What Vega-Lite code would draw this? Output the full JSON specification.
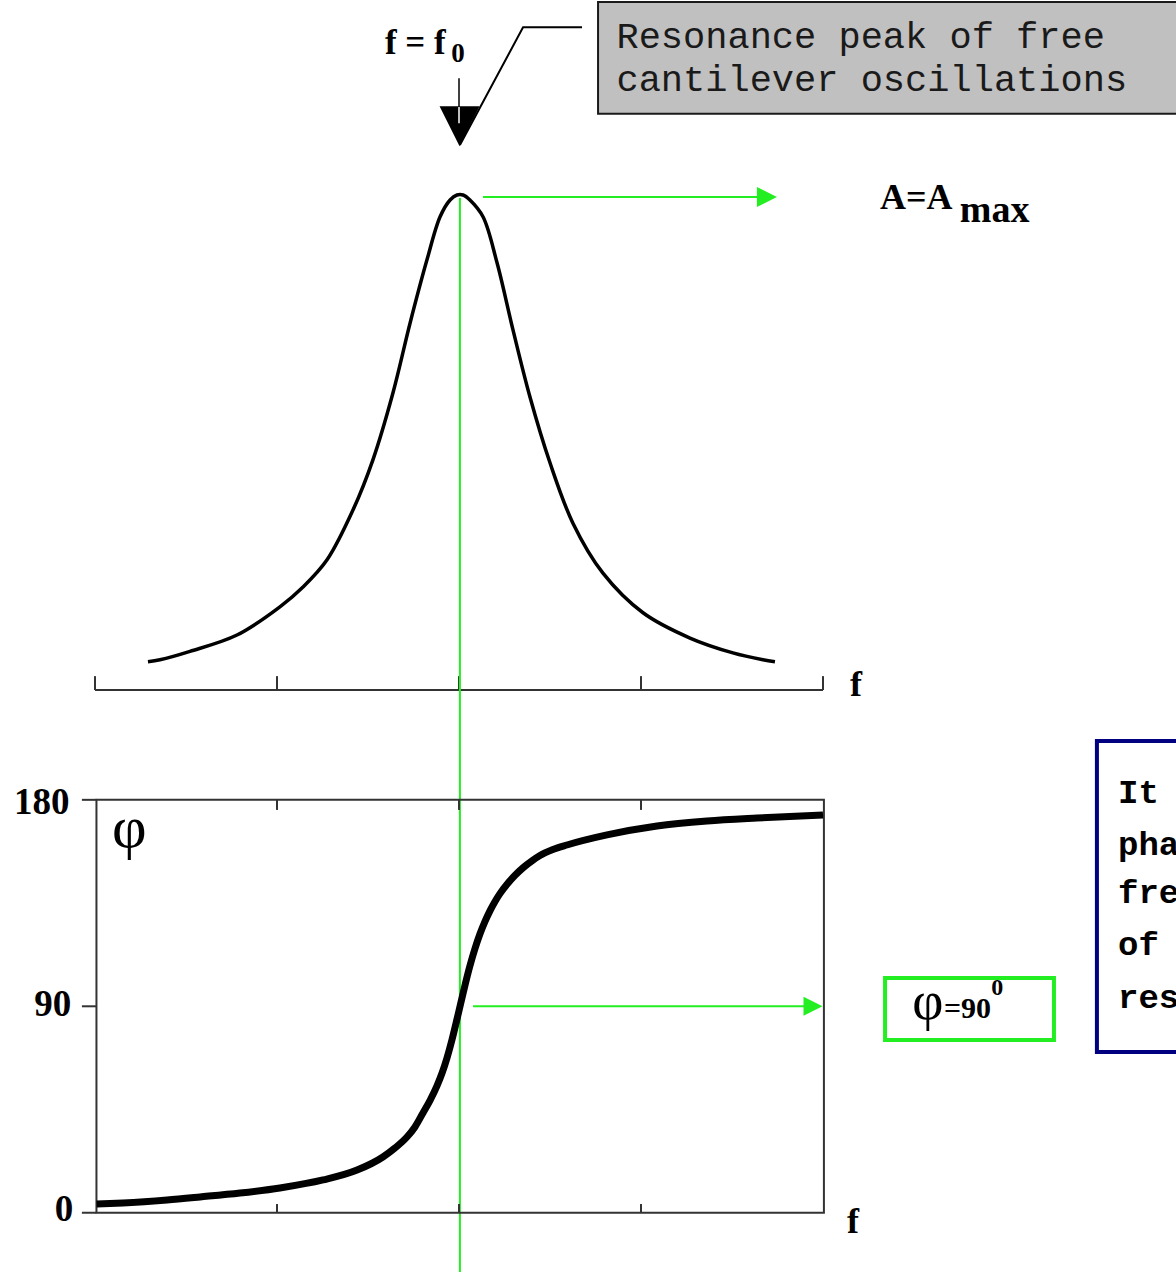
{
  "$schema": "https://vega.github.io/schema/vega-lite/v6.json",
  "width": 1176,
  "height": 1272,
  "autosize": "none",
  "padding": 0,
  "background": "white",
  "config": {"view": {"stroke": null}},
  "datasets": {
    "amplitude": [
      {"f": 0.291, "A": 0.057}, {"f": 0.357, "A": 0.061}, {"f": 0.522, "A": 0.078},
      {"f": 0.780, "A": 0.111}, {"f": 1.016, "A": 0.168}, {"f": 1.143, "A": 0.208},
      {"f": 1.275, "A": 0.263}, {"f": 1.418, "A": 0.364}, {"f": 1.527, "A": 0.465},
      {"f": 1.637, "A": 0.600}, {"f": 1.731, "A": 0.741}, {"f": 1.824, "A": 0.869},
      {"f": 1.896, "A": 0.956}, {"f": 1.951, "A": 0.990}, {"f": 1.989, "A": 1.000},
      {"f": 2.022, "A": 1.000}, {"f": 2.060, "A": 0.990}, {"f": 2.132, "A": 0.956},
      {"f": 2.209, "A": 0.863}, {"f": 2.297, "A": 0.727}, {"f": 2.390, "A": 0.592},
      {"f": 2.500, "A": 0.459}, {"f": 2.626, "A": 0.337}, {"f": 2.791, "A": 0.236},
      {"f": 3.011, "A": 0.156}, {"f": 3.269, "A": 0.105}, {"f": 3.505, "A": 0.075},
      {"f": 3.670, "A": 0.061}, {"f": 3.736, "A": 0.057}
    ],
    "phase": [
      {"f": 0.009, "phi": 3.8}, {"f": 0.154, "phi": 4.3}, {"f": 0.396, "phi": 5.6},
      {"f": 0.577, "phi": 6.9}, {"f": 0.797, "phi": 8.6}, {"f": 1.016, "phi": 10.8},
      {"f": 1.253, "phi": 14.3}, {"f": 1.440, "phi": 18.6}, {"f": 1.582, "phi": 24.3},
      {"f": 1.648, "phi": 28.2}, {"f": 1.714, "phi": 33.0}, {"f": 1.758, "phi": 37.4},
      {"f": 1.802, "phi": 43.5}, {"f": 1.841, "phi": 49.0}, {"f": 1.879, "phi": 55.3},
      {"f": 1.907, "phi": 60.9}, {"f": 1.934, "phi": 67.5}, {"f": 1.962, "phi": 75.6},
      {"f": 1.989, "phi": 84.4}, {"f": 2.005, "phi": 89.8}, {"f": 2.033, "phi": 99.2},
      {"f": 2.060, "phi": 107.6}, {"f": 2.088, "phi": 115.2}, {"f": 2.115, "phi": 121.5},
      {"f": 2.143, "phi": 127.0}, {"f": 2.170, "phi": 131.6}, {"f": 2.198, "phi": 135.7},
      {"f": 2.225, "phi": 139.1}, {"f": 2.264, "phi": 143.2}, {"f": 2.308, "phi": 147.1},
      {"f": 2.352, "phi": 150.4}, {"f": 2.401, "phi": 153.4}, {"f": 2.445, "phi": 155.7},
      {"f": 2.516, "phi": 158.3}, {"f": 2.593, "phi": 160.3}, {"f": 2.813, "phi": 164.7},
      {"f": 3.088, "phi": 168.6}, {"f": 3.363, "phi": 170.8}, {"f": 3.637, "phi": 172.1},
      {"f": 4.000, "phi": 173.4}
    ]
  },
  "encoding": {
    "x": {"field": "f", "type": "quantitative", "scale": {"domain": [-0.52198, 5.93956], "nice": false, "zero": false}, "axis": null}
  },
  "layer": [
    {
      "encoding": {
        "y": {"field": "A", "type": "quantitative", "scale": {"domain": [-1.17576, 1.39394], "nice": false, "zero": false}, "axis": null}
      },
      "layer": [
        {
          "data": {"values": [{"f": 2.764, "f2": 6.2, "A": 1.390, "A2": 1.164}]},
          "mark": {"type": "rect", "fill": "#c0c0c0", "stroke": "#1a1a1a", "strokeWidth": 2, "clip": true},
          "encoding": {"x2": {"field": "f2"}, "y2": {"field": "A2"}}
        },
        {
          "data": {"values": [
            {"f": 2.865, "A": 1.319, "label": "Resonance peak of free"},
            {"f": 2.865, "A": 1.232, "label": "cantilever oscillations"}
          ]},
          "mark": {"type": "text", "font": "Liberation Mono", "fontSize": 37, "align": "left", "baseline": "middle", "color": "#1a1a1a", "clip": true},
          "encoding": {"text": {"field": "label"}}
        },
        {
          "data": {"values": [
            {"f": 2.005, "A": 1.101, "o": 1},
            {"f": 2.352, "A": 1.339, "o": 2},
            {"f": 2.676, "A": 1.339, "o": 3}
          ]},
          "mark": {"type": "line", "color": "black", "strokeWidth": 2},
          "encoding": {"order": {"field": "o"}}
        },
        {
          "data": {"values": [{"f": 2.0, "A": 1.236, "A2": 1.141}]},
          "mark": {"type": "rule", "color": "black", "strokeWidth": 1.5},
          "encoding": {"y2": {"field": "A2"}}
        },
        {
          "data": {"values": [{"f": 2.003, "A": 1.139}]},
          "mark": {"type": "point", "shape": "M-1,-1L1,-1L0,1Z", "filled": true, "size": 1600, "color": "black", "opacity": 1}
        },
        {
          "data": {"values": [{"f": 2.0, "A": 1.178, "A2": 1.145}]},
          "mark": {"type": "rule", "color": "white", "strokeWidth": 1.5},
          "encoding": {"y2": {"field": "A2"}}
        },
        {
          "data": {"values": [{"f": 1.593, "A": 1.307, "label": "f = f"}]},
          "mark": {"type": "text", "font": "Liberation Serif", "fontWeight": "bold", "fontSize": 35, "align": "left", "baseline": "middle", "color": "black"},
          "encoding": {"text": {"field": "label"}}
        },
        {
          "data": {"values": [{"f": 1.958, "A": 1.285, "label": "0"}]},
          "mark": {"type": "text", "font": "Liberation Serif", "fontWeight": "bold", "fontSize": 27, "align": "left", "baseline": "middle", "color": "black"},
          "encoding": {"text": {"field": "label"}}
        },
        {
          "data": {"values": [{"f": 0, "f2": 4, "A": 0}]},
          "mark": {"type": "rule", "color": "#333333", "strokeWidth": 2},
          "encoding": {"x2": {"field": "f2"}}
        },
        {
          "data": {"values": [
            {"f": 0, "A": 0, "A2": 0.028}, {"f": 1, "A": 0, "A2": 0.028}, {"f": 2, "A": 0, "A2": 0.028},
            {"f": 3, "A": 0, "A2": 0.028}, {"f": 4, "A": 0, "A2": 0.028}
          ]},
          "mark": {"type": "rule", "color": "#333333", "strokeWidth": 2},
          "encoding": {"y2": {"field": "A2"}}
        },
        {
          "data": {"values": [{"f": 4.148, "A": 0.010, "label": "f"}]},
          "mark": {"type": "text", "font": "Liberation Serif", "fontWeight": "bold", "fontSize": 36, "align": "left", "baseline": "middle", "color": "black"},
          "encoding": {"text": {"field": "label"}}
        },
        {
          "data": {"name": "amplitude"},
          "mark": {"type": "line", "color": "black", "strokeWidth": 3.5, "interpolate": "catmull-rom"}
        },
        {
          "data": {"values": [{"f": 2.005, "A": 0.994, "A2": -1.17576}]},
          "mark": {"type": "rule", "color": "#22ee22", "strokeWidth": 2},
          "encoding": {"y2": {"field": "A2"}}
        },
        {
          "data": {"values": [{"f": 2.132, "f2": 3.66, "A": 0.996}]},
          "mark": {"type": "rule", "color": "#22ee22", "strokeWidth": 2},
          "encoding": {"x2": {"field": "f2"}}
        },
        {
          "data": {"values": [{"f": 3.692, "A": 0.996}]},
          "mark": {"type": "point", "shape": "M-1,-1L1,0L-1,1Z", "filled": true, "size": 400, "color": "#22ee22", "opacity": 1}
        },
        {
          "data": {"values": [{"f": 4.313, "A": 0.972, "label": "A=A"}]},
          "mark": {"type": "text", "font": "Liberation Serif", "fontWeight": "bold", "fontSize": 36, "align": "left", "baseline": "alphabetic", "color": "black"},
          "encoding": {"text": {"field": "label"}}
        },
        {
          "data": {"values": [{"f": 4.752, "A": 0.945, "label": "max"}]},
          "mark": {"type": "text", "font": "Liberation Serif", "fontWeight": "bold", "fontSize": 38, "align": "left", "baseline": "alphabetic", "color": "black"},
          "encoding": {"text": {"field": "label"}}
        }
      ]
    },
    {
      "encoding": {
        "y": {"field": "phi", "type": "quantitative", "scale": {"domain": [-25.83, 528.67], "nice": false, "zero": false}, "axis": null}
      },
      "layer": [
        {
          "data": {"values": [{"f": 0.008, "f2": 4.005, "phi": 0, "phi2": 180}]},
          "mark": {"type": "rect", "fill": "transparent", "stroke": "#333333", "strokeWidth": 2},
          "encoding": {"x2": {"field": "f2"}, "y2": {"field": "phi2"}}
        },
        {
          "data": {"values": [
            {"f": -0.072, "f2": 0.008, "phi": 0}, {"f": -0.072, "f2": 0.008, "phi": 90}, {"f": -0.072, "f2": 0.008, "phi": 180}
          ]},
          "mark": {"type": "rule", "color": "#333333", "strokeWidth": 2},
          "encoding": {"x2": {"field": "f2"}}
        },
        {
          "data": {"values": [
            {"f": 1, "phi": 180, "phi2": 175.6}, {"f": 2, "phi": 180, "phi2": 175.6}, {"f": 3, "phi": 180, "phi2": 175.6},
            {"f": 1, "phi": 0, "phi2": 3.8}, {"f": 2, "phi": 0, "phi2": 3.8}, {"f": 3, "phi": 0, "phi2": 3.8}
          ]},
          "mark": {"type": "rule", "color": "#333333", "strokeWidth": 2},
          "encoding": {"y2": {"field": "phi2"}}
        },
        {
          "data": {"values": [
            {"f": -0.14, "phi": 178.5, "label": "180"},
            {"f": -0.13, "phi": 90.5, "label": "90"},
            {"f": -0.12, "phi": 1.2, "label": "0"}
          ]},
          "mark": {"type": "text", "font": "Liberation Serif", "fontWeight": "bold", "fontSize": 37, "align": "right", "baseline": "middle", "color": "black"},
          "encoding": {"text": {"field": "label"}}
        },
        {
          "data": {"values": [{"f": 4.132, "phi": -4.0, "label": "f"}]},
          "mark": {"type": "text", "font": "Liberation Serif", "fontWeight": "bold", "fontSize": 36, "align": "left", "baseline": "middle", "color": "black"},
          "encoding": {"text": {"field": "label"}}
        },
        {
          "data": {"values": [{"f": 0.093, "phi": 159.5, "label": "φ"}]},
          "mark": {"type": "text", "font": "Liberation Serif", "fontSize": 60, "align": "left", "baseline": "alphabetic", "color": "black"},
          "encoding": {"text": {"field": "label"}}
        },
        {
          "data": {"name": "phase"},
          "mark": {"type": "line", "color": "black", "strokeWidth": 7, "interpolate": "monotone"}
        },
        {
          "data": {"values": [{"f": 2.077, "f2": 3.907, "phi": 90}]},
          "mark": {"type": "rule", "color": "#22ee22", "strokeWidth": 2},
          "encoding": {"x2": {"field": "f2"}}
        },
        {
          "data": {"values": [{"f": 3.945, "phi": 90}]},
          "mark": {"type": "point", "shape": "M-1,-1L1,0L-1,1Z", "filled": true, "size": 361, "color": "#22ee22", "opacity": 1}
        },
        {
          "data": {"values": [{"f": 4.341, "f2": 5.269, "phi": 102.3, "phi2": 75.3}]},
          "mark": {"type": "rect", "fill": "white", "stroke": "#22ee22", "strokeWidth": 4},
          "encoding": {"x2": {"field": "f2"}, "y2": {"field": "phi2"}}
        },
        {
          "data": {"values": [{"f": 4.49, "phi": 84.5, "label": "φ"}]},
          "mark": {"type": "text", "font": "Liberation Serif", "fontSize": 54, "align": "left", "baseline": "alphabetic", "color": "black"},
          "encoding": {"text": {"field": "label"}}
        },
        {
          "data": {"values": [{"f": 4.665, "phi": 85.0, "label": "=90"}]},
          "mark": {"type": "text", "font": "Liberation Serif", "fontWeight": "bold", "fontSize": 30, "align": "left", "baseline": "alphabetic", "color": "black"},
          "encoding": {"text": {"field": "label"}}
        },
        {
          "data": {"values": [{"f": 4.925, "phi": 95.0, "label": "0"}]},
          "mark": {"type": "text", "font": "Liberation Serif", "fontWeight": "bold", "fontSize": 24, "align": "left", "baseline": "alphabetic", "color": "black"},
          "encoding": {"text": {"field": "label"}}
        },
        {
          "data": {"values": [{"f": 5.505, "f2": 6.2, "phi": 205.6, "phi2": 70.1}]},
          "mark": {"type": "rect", "fill": "white", "stroke": "#000080", "strokeWidth": 4, "clip": true},
          "encoding": {"x2": {"field": "f2"}, "y2": {"field": "phi2"}}
        },
        {
          "data": {"values": [
            {"f": 5.621, "phi": 183.1, "label": "It is seen that the"},
            {"f": 5.621, "phi": 160.4, "label": "phase shift is 90°"},
            {"f": 5.621, "phi": 139.5, "label": "frequency"},
            {"f": 5.621, "phi": 116.8, "label": "of free cantilever"},
            {"f": 5.621, "phi": 93.6, "label": "resonance"}
          ]},
          "mark": {"type": "text", "font": "Liberation Mono", "fontWeight": "bold", "fontSize": 34, "align": "left", "baseline": "middle", "color": "black", "clip": true},
          "encoding": {"text": {"field": "label"}}
        }
      ]
    }
  ],
  "resolve": {"scale": {"y": "independent"}}
}
